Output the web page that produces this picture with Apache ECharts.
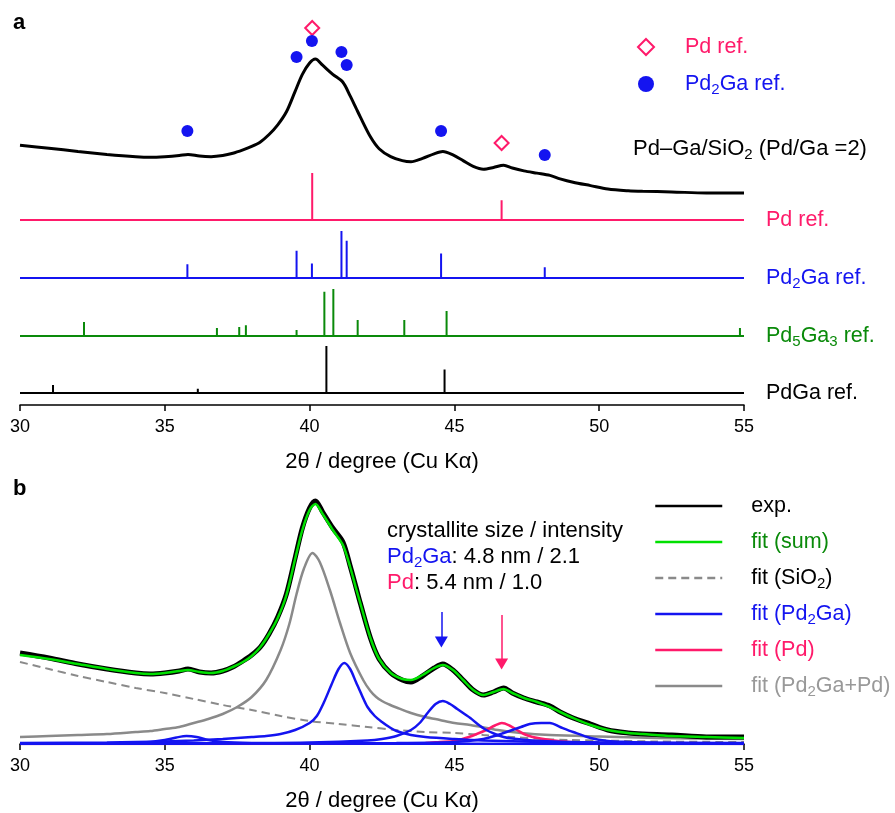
<!DOCTYPE html>
<html><head><meta charset="utf-8">
<script src="https://cdn.jsdelivr.net/npm/echarts@6/dist/echarts.min.js"></script>
<style>html,body{margin:0;padding:0;background:#fff}#c{width:895px;height:813px}</style>
</head><body><div id="c"></div>
<script>
const FONT = '"Liberation Sans", Arial, Helvetica, sans-serif';
const PINK = '#ff1a6a', BLUE = '#1414f0', GREEN = '#0a8a0a', LIME = '#00e000', GRAY = '#8a8a8a';

// x axis ticks
const xMin = 30, xMax = 55, xStep = 5;
const xTitle = '2θ / degree (Cu Kα)';

// reference stick patterns: [2θ, relative intensity]
const pdRef     = [[40.09,100],[46.63,42]];
const pd2gaRef  = [[35.78,29],[39.55,58],[40.08,31],[41.10,100],[41.28,79],[44.54,52],[48.12,23]];
const pd5ga3Ref = [[32.21,30],[36.80,17],[37.57,19],[37.80,23],[39.55,13],[40.51,94],[40.82,100],[41.66,34],[43.27,34],[44.73,53],[54.86,17]];
const pdgaRef   = [[31.14,17],[36.14,9],[40.58,100],[44.66,50]];

// vertical offsets of the stacked patterns in panel a (axis units)
const baseline = { pd: 185, pd2ga: 127, pd5ga3: 69, pdga: 12 };
const refScale = 0.47;
const expOffsetA = 208, expScaleA = 0.568;

// reference markers above the measured pattern (panel a)
const pdMarkers    = [[40.09,377],[46.63,262]];
const pd2gaMarkers = [[35.78,274],[39.55,348],[40.08,364],[41.10,353],[41.28,340],[44.54,274],[48.12,250]];

// panel b: measured pattern and fit
const expData = [[30,91],[31,86],[32,80],[33,75],[34,71],[34.5,70],[35,71],[35.5,73],[35.8,75],[36.2,72],[36.6,71],[37,73],[37.35,77],[37.7,83],[38,89],[38.3,97],[38.6,110],[38.9,127],[39.2,150],[39.5,186],[39.75,216],[40,236],[40.2,243],[40.45,232],[40.8,216],[41.15,202],[41.4,178],[41.6,157],[41.75,141],[42.1,106],[42.4,85],[42.8,71],[43.2,64],[43.5,62],[43.9,68],[44.3,76],[44.6,80],[44.95,74],[45.3,64],[45.65,54],[46,49],[46.35,52],[46.7,56],[47,51],[47.4,46],[47.85,42],[48.3,38],[48.65,32],[49.1,26],[49.7,20],[50.3,14],[51,11],[51.5,10],[52.5,9],[53.7,7],[55,7]];
const fitSum = [[30,89],[31,85],[32,80],[33,75],[34,71],[34.5,70],[35,71],[35.5,73],[35.8,74],[36.2,72],[36.6,71],[37,73],[37.35,77],[37.7,82],[38,88],[38.3,97],[38.6,110],[38.9,126],[39.2,149],[39.5,185],[39.75,214],[40,234],[40.2,240],[40.45,230],[40.8,214],[41.15,199],[41.4,177],[41.6,156],[41.75,141],[42.1,106],[42.4,85],[42.8,71],[43.2,65],[43.5,64],[43.9,69],[44.3,76],[44.6,79],[44.95,74],[45.3,64],[45.65,54],[46,49],[46.35,52],[46.7,55],[47,51],[47.4,46],[47.85,42],[48.3,37],[48.65,32],[49.1,26],[49.7,19],[50.3,14],[51,11],[51.5,10],[52.5,8],[53.7,7],[55,6]];
const fitSiO2 = [[30,82],[31,75],[32,68],[33,62],[34,56],[35,51],[36,45],[37,39],[38,34],[39,28],[40,23],[41,20],[42,17],[43,14],[44,12],[45,11],[46,9],[47,7],[48,5],[49,4],[50,3.5],[52,2.5],[55,2]];
const fitPd2GaPd = [[30,7],[31,8],[32,9],[33,10],[34,12],[34.5,13],[35,15],[35.5,17],[36,21],[36.5,25],[37,30],[37.5,37],[38,47],[38.5,64],[39,94],[39.3,120],[39.55,150],[39.8,175],[40.1,191],[40.35,182],[40.7,154],[41.05,121],[41.4,91],[41.85,64],[42.1,53],[42.3,47],[42.5,43],[42.75,39.5],[43,36.5],[43.5,31],[44,27],[44.5,24],[45,21],[45.55,19],[46.5,14],[47.3,11],[48.3,9],[50,7.5],[52,6],[55,5]];
const fitPd = [[30,0],[40,0.3],[44,1],[44.5,2],[45,3],[45.5,7],[46.1,14],[46.4,18.5],[46.64,21],[46.9,18.5],[47.16,14],[47.4,10],[47.7,7],[48.3,4],[49,2],[50,1],[55,0]];
const fitPd2Ga36 = [[30,0],[33,0.5],[34,1],[34.5,2],[35,4],[35.4,6.5],[35.75,8],[36.1,7],[36.5,4],[37,2],[38,1],[40,0.5],[45,0.2],[55,0]];
const fitPd2Ga41 = [[30,1],[33,1.5],[35,2.5],[36,3.5],[37,5],[38,7],[38.5,8],[39,10],[39.5,14],[40,21],[40.25,28],[40.5,42],[40.75,59],[41,75],[41.2,81],[41.4,75],[41.6,62],[41.8,49],[42,37],[42.25,28],[42.5,22],[42.75,17],[43,13],[43.5,9],[44,7],[45,5],[46,3.5],[48,2],[50,1.5],[55,1]];
const fitPd2Ga45 = [[30,0.3],[38,1],[40,1.5],[42,3.5],[42.5,5],[43,8],[43.5,14],[43.8,21],[44.1,32],[44.35,40],[44.6,43],[44.85,40],[45.1,35],[45.35,30],[45.55,26],[45.8,20],[46.1,14],[46.4,10],[46.7,7],[47,5.5],[48,3],[50,1.5],[55,0.5]];
const fitPd2Ga48 = [[30,0.2],[40,0.5],[43,1],[45,2],[46,5],[46.5,9],[46.7,11],[47,14],[47.3,17],[47.6,20],[48,21],[48.3,21],[48.65,17],[49.1,12],[49.7,6],[50.3,3],[51,2],[52,1],[55,0.5]];

// arrows marking the peaks used for crystallite size (panel b)
const arrowPd2Ga = [[44.55,132],[44.55,102]];
const arrowPd    = [[46.63,129],[46.63,80]];

// helpers
const FS = 21.5;
function sub(str) { return '{n|' + str.replace(/([A-Za-z])(\d)/g, '$1}{s|$2}{n|') + '}'; }
function richSet(size) {
  return {
    n: { fontSize: size, lineHeight: 27, fontFamily: FONT },
    s: { fontSize: 15, lineHeight: 15, padding: [12,0,0,0], fontFamily: FONT },
    sp: { width: 24 }
  };
}
const RICH = richSet(FS);
function stickLine(refs, base) {
  const pts = [[xMin, base]];
  refs.forEach(([x, h]) => { pts.push([x, base], [x, base + h * refScale], [x, base]); });
  pts.push([xMax, base]);
  return pts;
}
function stickSeries(name, label, refs, base, color) {
  return {
    type: 'line', name: name, xAxisIndex: 0, yAxisIndex: 0, data: stickLine(refs, base),
    symbol: 'none', lineStyle: { color: color, width: 2 }, z: 3,
    endLabel: { show: true, distance: 22, color: color, fontFamily: FONT, fontSize: FS,
      formatter: () => sub(label), rich: RICH }
  };
}
function lineSeries(name, data, color, width, extra) {
  return Object.assign({
    type: 'line', name: name, xAxisIndex: 1, yAxisIndex: 1, data: data, symbol: 'none',
    smooth: 0.3, lineStyle: { color: color, width: width }, itemStyle: { color: color }
  }, extra || {});
}
function arrow(pts, color) {
  return { silent: true, symbol: ['none', 'triangle'], symbolSize: [13, 11], label: { show: false },
    lineStyle: { color: color, width: 1.5, type: 'solid' },
    data: [[{ coord: pts[0] }, { coord: pts[1] }]] };
}
const axisCommon = {
  type: 'value', min: xMin, max: xMax, interval: xStep,
  axisLine: { lineStyle: { color: '#000', width: 1.5 } },
  axisTick: { length: 6, lineStyle: { color: '#000', width: 1.5 } },
  splitLine: { show: false },
  axisLabel: { fontSize: 18, color: '#000', fontFamily: FONT, margin: 13 },
  name: xTitle, nameLocation: 'middle', nameGap: 46,
  nameTextStyle: { fontSize: 22, color: '#000', fontFamily: FONT }
};

const chart = echarts.init(document.getElementById('c'), null, { renderer: 'canvas' });
chart.setOption({
  animation: false,
  backgroundColor: '#fff',
  textStyle: { fontFamily: FONT },
  grid: [
    { left: 20, width: 724, top: 5, height: 400 },
    { left: 20, width: 724, top: 494, height: 250 }
  ],
  xAxis: [Object.assign({ gridIndex: 0 }, axisCommon), Object.assign({ gridIndex: 1 }, axisCommon)],
  yAxis: [
    { gridIndex: 0, type: 'value', min: 0, max: 400, show: false },
    { gridIndex: 1, type: 'value', min: 0, max: 250, show: false }
  ],
  legend: [
    { orient: 'vertical', left: 637, top: 33.5, padding: 0, itemWidth: 16, itemHeight: 16, itemGap: 10,
      selectedMode: false,
      data: [{ name: 'Pd ref.', textStyle: { color: PINK } }, { name: 'Pd2Ga ref.', textStyle: { color: BLUE } }],
      formatter: (n) => '{sp| }' + sub(n),
      textStyle: { fontSize: FS, lineHeight: 27, fontFamily: FONT, rich: Object.assign(richSet(FS), { sp: { width: 26 } }) } },
    { orient: 'vertical', left: 654, top: 492.5, padding: 0, itemWidth: 67, itemHeight: 14, itemGap: 9,
      selectedMode: false,
      itemStyle: { opacity: 0 },
      lineStyle: { width: 2.5 },
      data: [
        { name: 'exp.', textStyle: { color: '#000' } },
        { name: 'fit (sum)', textStyle: { color: GREEN } },
        { name: 'fit (SiO2)', textStyle: { color: '#000' } },
        { name: 'fit (Pd2Ga)', textStyle: { color: BLUE } },
        { name: 'fit (Pd)', textStyle: { color: PINK } },
        { name: 'fit (Pd2Ga+Pd)', textStyle: { color: '#999' } }
      ],
      formatter: (n) => '{sp| }' + sub(n),
      textStyle: { fontSize: FS, lineHeight: 27, fontFamily: FONT, rich: RICH } }
  ],
  graphic: [
    { type: 'text', left: 13, top: 12, style: { text: 'a', fontSize: 22, fontWeight: 'bold', fontFamily: FONT, fill: '#000' } },
    { type: 'text', left: 13, top: 478, style: { text: 'b', fontSize: 22, fontWeight: 'bold', fontFamily: FONT, fill: '#000' } },
    { type: 'text', x: 633, y: 149, style: { text: sub('Pd–Ga/SiO2 (Pd/Ga =2)'), verticalAlign: 'middle', fill: '#000',
        rich: { n: { fontSize: 22, lineHeight: 27, fontFamily: FONT }, s: { fontSize: 15, lineHeight: 15, padding: [12,0,0,0], fontFamily: FONT } } } },
    { type: 'text', x: 387, y: 531, style: { text: 'crystallite size / intensity', fontSize: 22, fontFamily: FONT, fill: '#000', verticalAlign: 'middle' } },
    { type: 'text', x: 387, y: 557, style: { text: '{b|Pd}{bs|2}{b|Ga}{k|: 4.8 nm / 2.1}', verticalAlign: 'middle',
        rich: { b: { fontSize: 22, lineHeight: 27, fontFamily: FONT, fill: BLUE }, bs: { fontSize: 15, lineHeight: 15, padding: [12,0,0,0], fontFamily: FONT, fill: BLUE },
                k: { fontSize: 22, lineHeight: 27, fontFamily: FONT, fill: '#000' } } } },
    { type: 'text', x: 387, y: 583, style: { text: '{p|Pd}{k|: 5.4 nm / 1.0}', verticalAlign: 'middle',
        rich: { p: { fontSize: 22, lineHeight: 27, fontFamily: FONT, fill: PINK }, k: { fontSize: 22, lineHeight: 27, fontFamily: FONT, fill: '#000' } } } }
  ],
  series: [
    // panel a
    { type: 'line', name: 'exp a', xAxisIndex: 0, yAxisIndex: 0, symbol: 'none', smooth: 0.3, z: 4,
      data: expData.map(([x, y]) => [x, expOffsetA + expScaleA * y]),
      lineStyle: { color: '#000', width: 3 } },
    stickSeries('Pd pattern', 'Pd ref.', pdRef, baseline.pd, PINK),
    stickSeries('Pd2Ga pattern', 'Pd2Ga ref.', pd2gaRef, baseline.pd2ga, BLUE),
    stickSeries('Pd5Ga3 pattern', 'Pd5Ga3 ref.', pd5ga3Ref, baseline.pd5ga3, GREEN),
    stickSeries('PdGa pattern', 'PdGa ref.', pdgaRef, baseline.pdga, '#000'),
    { type: 'scatter', name: 'Pd ref.', xAxisIndex: 0, yAxisIndex: 0, data: pdMarkers, symbol: 'diamond', symbolSize: 14, z: 5,
      itemStyle: { color: '#fff', borderColor: PINK, borderWidth: 2, opacity: 1 } },
    { type: 'scatter', name: 'Pd2Ga ref.', xAxisIndex: 0, yAxisIndex: 0, data: pd2gaMarkers, symbol: 'circle', symbolSize: 12, z: 5,
      itemStyle: { color: BLUE, opacity: 1 } },
    // panel b
    lineSeries('fit (SiO2)', fitSiO2, GRAY, 2, { lineStyle: { color: GRAY, width: 2, type: [8, 5] }, z: 2 }),
    lineSeries('fit (Pd2Ga+Pd)', fitPd2GaPd, GRAY, 2.5, { z: 2 }),
    lineSeries('fit (Pd)', fitPd, PINK, 2.5, { z: 3, markLine: arrow(arrowPd, PINK) }),
    lineSeries('fit (Pd2Ga)', fitPd2Ga36, BLUE, 2.5, { z: 4 }),
    lineSeries('fit (Pd2Ga)', fitPd2Ga41, BLUE, 2.5, { z: 4 }),
    lineSeries('fit (Pd2Ga)', fitPd2Ga45, BLUE, 2.5, { z: 4, markLine: arrow(arrowPd2Ga, BLUE) }),
    lineSeries('fit (Pd2Ga)', fitPd2Ga48, BLUE, 2.5, { z: 4 }),
    lineSeries('exp.', expData, '#000', 5, { z: 5 }),
    lineSeries('fit (sum)', fitSum, LIME, 2.5, { z: 6 })
  ]
});
</script></body></html>
